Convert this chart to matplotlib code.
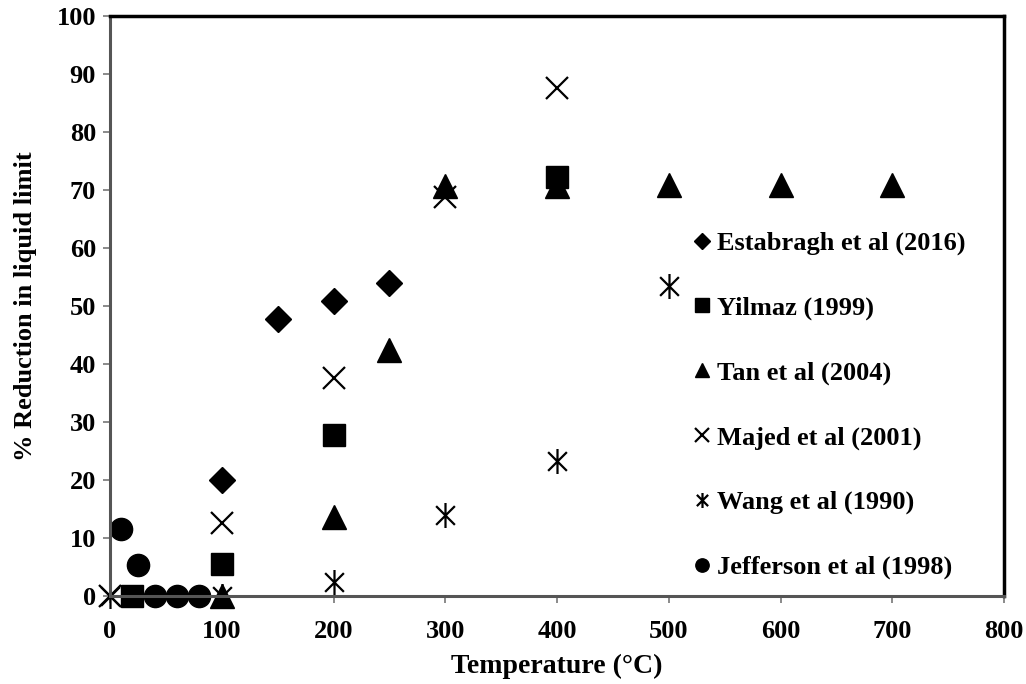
import numpy as np
import matplotlib.pyplot as plt
from matplotlib.path import Path

plt.rcParams['font.family'] = 'Liberation Serif'
plt.rcParams['font.weight'] = 'bold'

estabragh_x = [100, 150, 200, 250]
estabragh_y = [20.0, 47.8, 50.9, 54.0]
yilmaz_x = [20, 100, 200, 400]
yilmaz_y = [0.0, 5.5, 27.7, 72.3]
tan_x = [100, 200, 250, 300, 400, 500, 600, 700]
tan_y = [0.0, 13.6, 42.4, 70.7, 70.7, 70.9, 70.9, 70.9]
majed_x = [0, 100, 200, 300, 400]
majed_y = [0.0, 12.6, 37.6, 68.8, 87.6]
wang_x = [0, 100, 200, 300, 400, 500]
wang_y = [0.0, 0.0, 2.4, 14.0, 23.3, 53.5]
jefferson_x = [10, 25, 40, 60, 80]
jefferson_y = [11.6, 5.3, 0.0, 0.0, 0.0]

# asterisk: vertical bar plus two steep diagonals
star = Path([(0, -1), (0, 1), (-0.75, -0.75), (0.75, 0.75), (-0.75, 0.75), (0.75, -0.75)],
            [Path.MOVETO, Path.LINETO, Path.MOVETO, Path.LINETO, Path.MOVETO, Path.LINETO])

fig = plt.figure(figsize=(10.26, 6.84), dpi=100)
ax = fig.add_axes([0.1072, 0.1287, 0.8714, 0.8479])

ax.plot(estabragh_x, estabragh_y, 'D', color='black', ms=13, ls='none', clip_on=False, label='Estabragh et al (2016)')
ax.plot(yilmaz_x, yilmaz_y, 's', color='black', ms=16, ls='none', clip_on=False, label='Yilmaz (1999)')
ax.plot(majed_x, majed_y, 'x', color='black', ms=16, mew=1.6, ls='none', clip_on=False, label='Majed et al (2001)')
ax.plot(wang_x, wang_y, marker=star, color='black', ms=18, mew=1.6, ls='none', clip_on=False, label='Wang et al (1990)')
ax.plot(tan_x, tan_y, '^', color='black', ms=17, ls='none', clip_on=False, label='Tan et al (2004)')
ax.plot(jefferson_x, jefferson_y, 'o', color='black', ms=16, ls='none', clip_on=False, label='Jefferson et al (1998)')

ax.set_xlim(0, 800)
ax.set_ylim(0, 100)
ax.set_xticks(np.arange(0, 801, 100))
ax.set_yticks(np.arange(0, 101, 10))
ax.tick_params(labelsize=19, color='#777777', length=5, width=1.2)
ax.tick_params(axis='x', pad=12)
ax.tick_params(axis='y', pad=5)

for s in ['left', 'bottom']:
    ax.spines[s].set_color('#555555')
    ax.spines[s].set_linewidth(2.2)
for s in ['top', 'right']:
    ax.spines[s].set_color('black')
    ax.spines[s].set_linewidth(2.5)

ax.set_xlabel('Temperature (°C)', fontsize=20, fontweight='bold', labelpad=8)
ax.set_ylabel('% Reduction in liquid limit', fontsize=19, fontweight='bold', labelpad=14)

handles, labels = ax.get_legend_handles_labels()
order = [0, 1, 4, 2, 3, 5]
leg = ax.legend([handles[i] for i in order], [labels[i] for i in order],
                loc='lower left', bbox_to_anchor=(0.639, 0.006), frameon=False,
                fontsize=19, markerscale=0.6, handlelength=0.6, handletextpad=0.25,
                labelspacing=1.55, borderaxespad=0.1)

plt.savefig('out.png', dpi=100)
